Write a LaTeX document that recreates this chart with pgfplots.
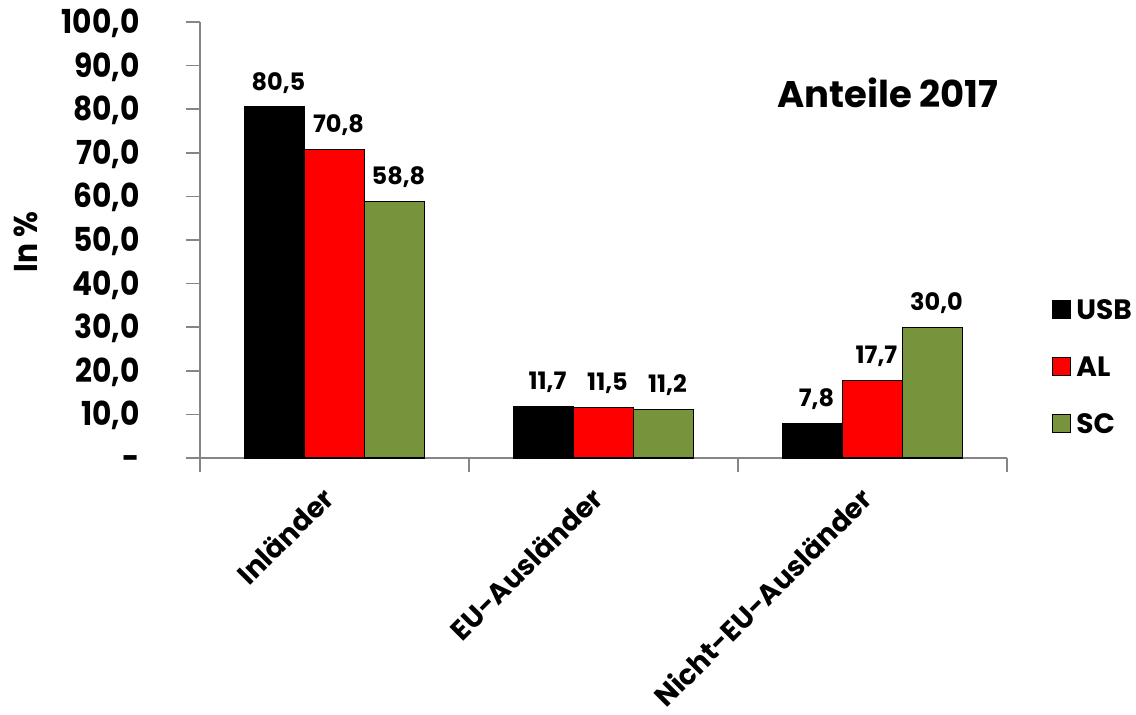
\documentclass[border=0pt]{standalone}
\usepackage{fontspec}
\setmainfont{Poppins}
\newfontfamily\narrowfont{Poppins}[FakeStretch=0.9]
\usepackage{pgfplots}
\pgfplotsset{compat=1.18}
\definecolor{usb}{HTML}{000000}
\definecolor{al}{HTML}{FF0000}
\definecolor{sc}{HTML}{77933C}
\definecolor{axgray}{HTML}{868686}
\newcommand{\tickfont}{\narrowfont\bfseries\fontsize{16.5}{18}\selectfont}
\newcommand{\xlabfont}{\bfseries\fontsize{14}{17}\selectfont}
\newcommand{\datafont}{\bfseries\fontsize{12}{14}\selectfont}
\newcommand{\legfont}{\bfseries\fontsize{14}{16}\selectfont}
\newcommand{\titlefont}{\bfseries\fontsize{18.5}{22}\selectfont}
\begin{document}
\begin{tikzpicture}
\path[use as bounding box] (-100pt,-128.5pt) rectangle (468pt,229pt);
\begin{axis}[
  at={(0pt,0pt)}, anchor=south west,
  scale only axis, width=403.5pt, height=218pt,
  ybar=0pt, bar width=30pt,
  xmin=-0.5, xmax=2.5, ymin=0, ymax=100,
  enlarge x limits=false, enlarge y limits=false,
  axis lines*=left, axis line style={axgray, line width=0.8pt},
  tick align=outside, major tick length=7pt,
  tick style={axgray, line width=0.8pt},
  xtick={-0.5,0.5,1.5,2.5}, xticklabels={},
  extra x ticks={0,1,2},
  extra x tick labels={Inländer,EU-Ausländer,Nicht-EU-Ausländer},
  extra x tick style={tick style={draw=none},
    xticklabel style={xshift=-7pt, yshift=-6.5pt, rotate=45, anchor=north east, inner sep=0pt, font=\xlabfont}},
  ytick={0,10,20,30,40,50,60,70,80,90,100},
  yticklabels={{-\hspace*{0pt}},{10,0},{20,0},{30,0},{40,0},{50,0},{60,0},{70,0},{80,0},{90,0},{100,0}},
  yticklabel style={anchor=base east, inner sep=0pt, xshift=-23pt, yshift=-5.8pt, font=\tickfont},
  ylabel={In \%},
  ylabel style={at={(axis description cs:-0.2156,0.4954)}, anchor=center, font=\tickfont},
  title={Anteile 2017},
  title style={at={(axis description cs:0.8525,0.81)}, anchor=center, font=\titlefont},
  nodes near coords={\pgfmathprintnumber[fixed,fixed zerofill,precision=1,use comma,assume math mode=true]{\pgfplotspointmeta}},
  nodes near coords style={anchor=base, inner sep=0pt, yshift=8.5pt, xshift=2pt, font=\datafont, text=black},
  legend style={at={(axis description cs:1.0558,0.3635)}, anchor=north west, draw=none, fill=none,
    inner sep=0pt, row sep=18.7pt, column sep=2.5pt, font=\legfont,
    nodes={inner sep=0pt, text height=9.8pt, text depth=0pt}},
  legend cell align=left,
  legend image code/.code={\draw[#1,/tikz/.cd,draw=black,line width=0.5pt] (0pt,-4.5pt) rectangle (9pt,4.5pt);},
  clip=false,
]
\addplot[fill=usb, draw=black, line width=0.6pt] coordinates {(0,80.5) (1,11.7) (2,7.8)};
\addplot[fill=al, draw=black, line width=0.6pt] coordinates {(0,70.8) (1,11.5) (2,17.7)};
\addplot[fill=sc, draw=black, line width=0.6pt] coordinates {(0,58.8) (1,11.2) (2,30.0)};
\legend{USB,AL,SC}
\end{axis}
\end{tikzpicture}
\end{document}
